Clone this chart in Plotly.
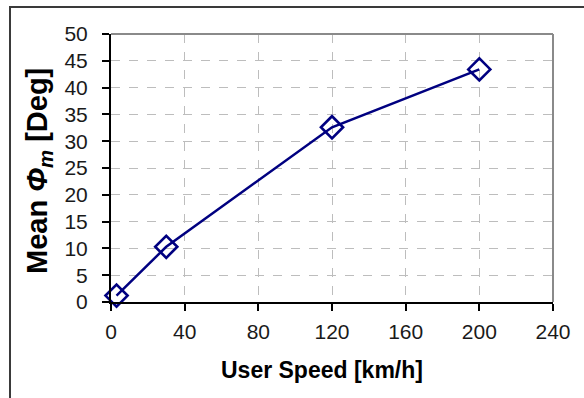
import plotly.graph_objects as go

# Mean angle versus user speed
speed_kmh = [3, 30, 120, 200]
mean_phi_deg = [1.2, 10.3, 32.6, 43.4]

x_ticks = [0, 40, 80, 120, 160, 200, 240]
y_ticks = [0, 5, 10, 15, 20, 25, 30, 35, 40, 45, 50]

W, H = 584, 398
L, R, T, B = 111, 31, 34, 96
pw, ph = W - L - R, H - T - B


def px_x(p):
    return (p - L) / pw


def px_y(p):
    return (H - B - p) / ph


fig = go.Figure()
fig.add_trace(go.Scatter(
    x=speed_kmh, y=mean_phi_deg, mode="lines+markers",
    line=dict(color="#000080", width=2.5),
    marker=dict(symbol="diamond-open", size=17, color="#000080",
                line=dict(color="#000080", width=2.6)),
    showlegend=False, cliponaxis=False,
))

axis_common = dict(
    showline=True, linecolor="black", linewidth=2,
    ticks="outside", ticklen=7, tickwidth=1.5, tickcolor="black",
    showgrid=True, gridcolor="#bdbdbd", gridwidth=1, griddash="dash",
    zeroline=False, tickfont=dict(family="Arial", size=21, color="#1a1a1a"),
)

fig.update_xaxes(range=[0, 240], tickvals=x_ticks, ticklabelstandoff=3,
                 **axis_common)
fig.update_yaxes(range=[0, 50], tickvals=y_ticks, ticklabelstandoff=10,
                 **axis_common)

shapes = [
    # grey top and right edges of the plot area
    dict(type="line", xref="paper", yref="paper", x0=0, x1=1, y0=1, y1=1,
         line=dict(color="#8a8a8a", width=2)),
    dict(type="line", xref="paper", yref="paper", x0=1, x1=1, y0=0, y1=1,
         line=dict(color="#8a8a8a", width=2)),
    # outer chart frame
    dict(type="rect", xref="paper", yref="paper",
         x0=px_x(10), x1=px_x(W + 20), y0=px_y(H + 20), y1=px_y(7),
         line=dict(color="#3a3a3a", width=2), layer="below"),
]

annotations = [
    dict(text="<b>User Speed [km/h]</b>", xref="paper", yref="paper",
         x=px_x(322), y=px_y(370), xanchor="center", yanchor="middle",
         showarrow=False, font=dict(family="Arial", size=23, color="black")),
    dict(text="<b>Mean <i>Φ</i><sub><i>m</i></sub> [Deg]</b>", xref="paper",
         yref="paper", x=px_x(39), y=px_y(171), xanchor="center",
         yanchor="middle", textangle=-90, showarrow=False,
         font=dict(family="Arial", size=29, color="black")),
]

fig.update_layout(
    width=W, height=H, margin=dict(l=L, r=R, t=T, b=B),
    paper_bgcolor="white", plot_bgcolor="white",
    shapes=shapes, annotations=annotations,
)

fig.write_html("out.html")
